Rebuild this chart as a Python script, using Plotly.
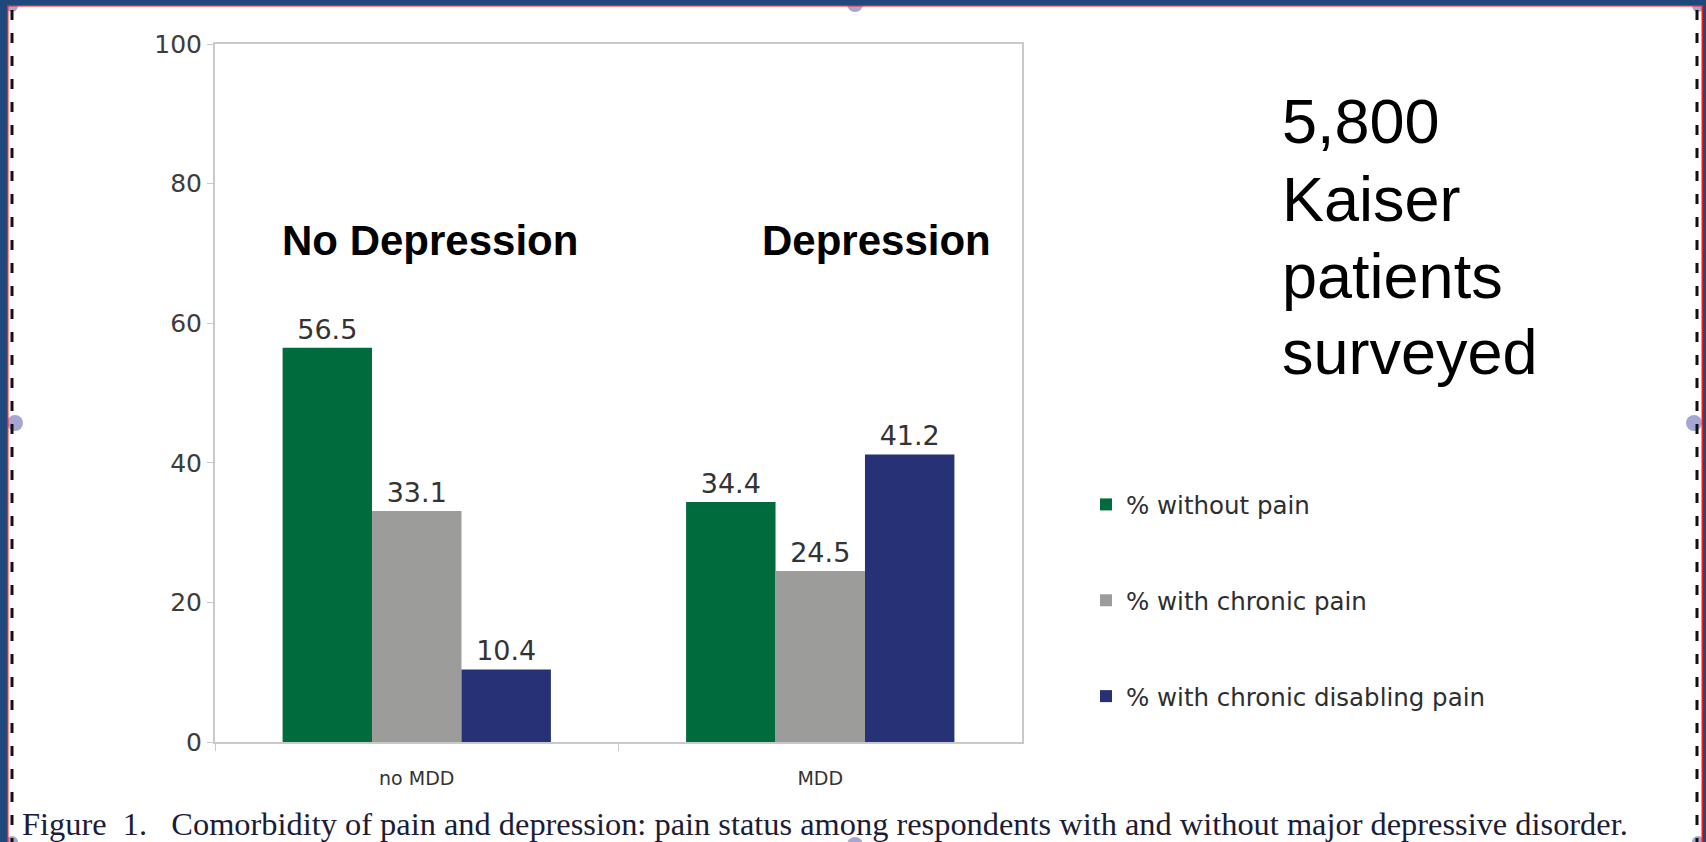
import plotly.graph_objects as go

W, H = 1706, 842

categories = ["no MDD", "MDD"]
without_pain = [56.5, 34.4]
chronic_pain = [33.1, 24.5]
disabling_pain = [10.4, 41.2]
series_names = ["% without pain", "% with chronic pain", "% with chronic disabling pain"]
series_values = [without_pain, chronic_pain, disabling_pain]
series_colors = ["#006b3c", "#9c9d9a", "#263275"]
y_ticks = [0, 20, 40, 60, 80, 100]
group_titles = ["No Depression", "Depression"]
sample_note = ["5,800", "Kaiser", "patients", "surveyed"]
caption = ("Figure\u00a0 1.\u00a0\u00a0 Comorbidity of pain and depression: pain status among "
           "respondents with and without major depressive disorder.")

CHART_FONT = "DejaVu Sans, Verdana, sans-serif"


def px_x(x):
    return x / W


def px_y(y):
    return 1 - y / H


fig = go.Figure()
for name, vals, color in zip(series_names, series_values, series_colors):
    fig.add_trace(go.Bar(
        x=categories, y=vals, name=name, legendgroup=name,
        marker=dict(color=color, line=dict(width=0)),
        text=[f"{v:.1f}" for v in vals], textposition="outside",
        textfont=dict(family=CHART_FONT, size=27, color="#333333"),
        cliponaxis=False,
    ))

shapes = []
# selection handles around the slide object
for cx, cy, r in [(12, 6, 6), (855, 4, 8), (1698, 6, 6), (15, 423, 8), (1694, 423, 8),
                  (12, 842, 6), (855, 845, 8), (1698, 842, 6)]:
    shapes.append(dict(type="circle", xref="paper", yref="paper",
                       x0=px_x(cx - r), x1=px_x(cx + r), y0=px_y(cy + r), y1=px_y(cy - r),
                       fillcolor="#a6a6d2", line=dict(width=0), layer="above"))
# dashed placeholder edges
for x in (12, 1697):
    shapes.append(dict(type="line", xref="paper", yref="paper",
                       x0=px_x(x), x1=px_x(x), y0=px_y(10), y1=px_y(842),
                       line=dict(color="#111111", width=3, dash="10px,13px"), layer="above"))
# slide frame
frame = "#1f497d"
shapes += [
    dict(type="rect", xref="paper", yref="paper", x0=0, x1=1, y0=px_y(5), y1=1,
         fillcolor=frame, line=dict(width=0), layer="above"),
    dict(type="rect", xref="paper", yref="paper", x0=0, x1=px_x(7), y0=0, y1=1,
         fillcolor=frame, line=dict(width=0), layer="above"),
    dict(type="rect", xref="paper", yref="paper", x0=px_x(1703), x1=1, y0=0, y1=1,
         fillcolor=frame, line=dict(width=0), layer="above"),
    dict(type="line", xref="paper", yref="paper", x0=px_x(7), x1=px_x(1703),
         y0=px_y(5.7), y1=px_y(5.7), line=dict(color="#ff1a1a", width=1.6), layer="above"),
    dict(type="line", xref="paper", yref="paper", x0=px_x(7.7), x1=px_x(7.7),
         y0=0, y1=px_y(5), line=dict(color="#ff1a1a", width=1.6), layer="above"),
    dict(type="line", xref="paper", yref="paper", x0=px_x(1702.3), x1=px_x(1702.3),
         y0=0, y1=px_y(5), line=dict(color="#ff1a1a", width=1.6), layer="above"),
]

annotations = []
for title, cx in zip(group_titles, (430, 876)):
    annotations.append(dict(text=f"<b>{title}</b>", xref="paper", yref="paper",
                            x=px_x(cx), y=px_y(241), xanchor="center", yanchor="middle",
                            showarrow=False,
                            font=dict(family="Liberation Sans, Arial, sans-serif", size=42, color="#000000")))
# side note, one annotation per line for tighter leading
for line, cy in zip(sample_note, (121, 199, 276, 352)):
    annotations.append(dict(text=line, xref="paper", yref="paper",
                            x=px_x(1280), y=px_y(cy), xanchor="left", yanchor="middle",
                            align="left", showarrow=False,
                            font=dict(family="Liberation Sans, Arial, sans-serif", size=63,
                                      color="#000000")))
annotations.append(dict(text=caption, xref="paper", yref="paper",
                        x=px_x(20), y=px_y(824), xanchor="left", yanchor="middle",
                        showarrow=False,
                        font=dict(family="Liberation Serif, Times New Roman, serif", size=32.4,
                                  color="#1c1c36")))

axis_line = "#c9c9c9"
fig.update_layout(
    width=W, height=H,
    margin=dict(l=0, r=0, t=0, b=0, autoexpand=False),
    paper_bgcolor="white", plot_bgcolor="white",
    barmode="group", bargap=0.335, bargroupgap=0,
    xaxis=dict(domain=[px_x(215), px_x(1022)], type="category", automargin=False,
               showline=True, mirror=True, linecolor=axis_line, linewidth=2,
               ticks="outside", tickson="boundaries", ticklen=7, tickcolor=axis_line,
               showgrid=False, ticklabelstandoff=18,
               tickfont=dict(family=CHART_FONT, size=19, color="#333333")),
    yaxis=dict(domain=[px_y(742), px_y(44)], range=[0, 100], tickvals=y_ticks,
               automargin=False,
               showline=True, mirror=True, linecolor=axis_line, linewidth=2,
               ticks="outside", ticklen=6, tickcolor=axis_line, showgrid=False,
               zeroline=False,
               tickfont=dict(family=CHART_FONT, size=25, color="#3c3c3c")),
    legend=dict(x=px_x(1086), y=px_y(482), xanchor="left", yanchor="top",
                traceorder="grouped", tracegroupgap=61, itemwidth=30,
                font=dict(family=CHART_FONT, size=24.5, color="#2e2e2e"),
                bgcolor="rgba(0,0,0,0)"),
    shapes=shapes,
    annotations=annotations,
)

fig.write_html("out.html")
